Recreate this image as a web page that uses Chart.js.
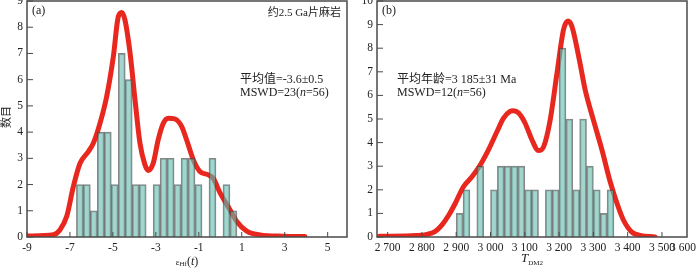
<!DOCTYPE html>
<html>
<head>
<meta charset="utf-8">
<script src="https://cdn.jsdelivr.net/npm/chart.js@4.4.0/dist/chart.umd.min.js"></script>
<style>
  html, body { margin: 0; padding: 0; background: #fff; }
  #wrap { position: relative; width: 700px; height: 268px; }
  canvas { position: absolute; top: 0; }
</style>
</head>
<body>
<div id="wrap">
  <canvas id="chartA" width="350" height="268" style="left:0"></canvas>
  <canvas id="chartB" width="350" height="268" style="left:350px"></canvas>
</div>
<script>
(function () {
  "use strict";

  // (a) eHf(t) histogram, bin centres and counts
  const binsA   = [-6.538, -6.213, -5.888, -5.563, -5.238, -4.913, -4.588, -4.263, -3.938, -3.613, -3.288, -2.963,
                   -2.638, -2.313, -1.988, -1.663, -1.338, -1.013, -0.688, -0.363, -0.038, 0.288, 0.613];
  const countsA = [2, 2, 1, 4, 4, 2, 7, 6, 2, 2, 0, 2, 3, 3, 2, 3, 3, 2, 0, 3, 0, 2, 1];
  // (a) probability curve
  const curveAx = [-8.95, -7.77, -7.46, -7.15, -6.84, -6.53, -6.14, -5.91, -5.6, -5.29, -4.98, -4.75, -4.59, -4.44,
                   -4.2, -3.97, -3.74, -3.51, -3.35, -3.12, -2.89, -2.65, -2.42, -2.11, -1.8, -1.57, -1.26, -0.95,
                   -0.56, -0.33, -0.01, 0.45, 0.76, 1.23, 1.85, 2.93, 3.94];
  const curveAy = [0.04, 0.09, 0.28, 0.79, 1.93, 2.81, 3.26, 3.58, 4.34, 5.36, 6.88, 8.4, 8.56, 8.28,
                   7.01, 5.23, 3.58, 2.76, 2.54, 2.82, 3.71, 4.34, 4.53, 4.5, 4.22, 3.71, 2.95, 2.5,
                   2.37, 2.24, 1.68, 1.04, 0.6, 0.22, 0.08, 0.03, 0.02];
  const ticksAx = [-9, -7, -5, -3, -1, 1, 3, 5];
  const ticksAy = [0, 1, 2, 3, 4, 5, 6, 7, 8, 9];

  // (b) TDM2 histogram
  const binsB   = [2910, 2930, 2950, 2970, 2990, 3010, 3030, 3050, 3070, 3090, 3110, 3130,
                   3150, 3170, 3190, 3210, 3230, 3250, 3270, 3290, 3310, 3330, 3350];
  const countsB = [1, 2, 0, 3, 0, 2, 3, 3, 3, 3, 2, 2, 0, 2, 2, 8, 5, 2, 5, 3, 2, 1, 2];
  const curveBx = [2676, 2785, 2815, 2839, 2858, 2878, 2897, 2921, 2946, 2970, 2994, 3019, 3038, 3057, 3067,
                   3082, 3101, 3121, 3140, 3155, 3174, 3194, 3213, 3226, 3237, 3257, 3276, 3300, 3325, 3349,
                   3369, 3388, 3412, 3436, 3480];
  const curveBy = [0.03, 0.06, 0.11, 0.24, 0.5, 0.92, 1.42, 2.13, 2.55, 3.05, 3.69, 4.47, 5.04, 5.32, 5.35,
                   5.25, 4.82, 4.11, 3.66, 3.83, 4.96, 6.95, 8.79, 9.15, 8.94, 7.66, 6.24, 4.96, 3.69, 2.34,
                   1.42, 0.71, 0.21, 0.07, 0.0];
  const ticksBx = [2700, 2800, 2900, 3000, 3100, 3200, 3300, 3400, 3500];
  const ticksBy = [0, 1, 2, 3, 4, 5, 6, 7, 8, 9, 10];

  const serif = '"Liberation Serif", "Noto Sans CJK SC", serif';
  const ink = '#222';
  const bar_fill = 'rgba(100,185,172,0.6)';
  const bar_edge = 'rgba(70,70,70,0.65)';
  const curve_red = 'rgb(232,40,30)';

  function spaced(v) {
    return String(v).replace(/(\d)(\d{3})$/, '$1 $2');
  }

  // box frame and inward tick marks
  const frameTicks = {
    id: 'frameTicks',
    afterDatasetsDraw(chart) {
      const ctx = chart.ctx;
      const a = chart.chartArea;
      const sx = chart.scales.x, sy = chart.scales.y;
      ctx.save();
      ctx.strokeStyle = '#4a4a4a';
      ctx.lineWidth = 1.5;
      ctx.strokeRect(a.left, a.top, a.right - a.left, a.bottom - a.top);
      ctx.lineWidth = 1;
      ctx.beginPath();
      sx.ticks.forEach(function (t) {
        const px = sx.getPixelForValue(t.value);
        ctx.moveTo(px, a.bottom);
        ctx.lineTo(px, a.bottom - 5);
      });
      sy.ticks.forEach(function (t) {
        const py = sy.getPixelForValue(t.value);
        ctx.moveTo(a.left, py);
        ctx.lineTo(a.left + 6, py);
      });
      ctx.stroke();
      ctx.restore();
    }
  };

  // free text with mixed fonts (italics, subscripts)
  const notes = {
    id: 'notes',
    afterDraw(chart, args, opts) {
      const ctx = chart.ctx;
      ctx.save();
      ctx.fillStyle = ink;
      ctx.textBaseline = 'middle';
      (opts.items || []).forEach(function (item) {
        ctx.save();
        ctx.translate(item.x, item.y);
        if (item.rotate) ctx.rotate(item.rotate);
        let w = 0;
        item.runs.forEach(function (r) { ctx.font = r[1]; w += ctx.measureText(r[0]).width; });
        let x = item.align === 'right' ? -w : item.align === 'center' ? -w / 2 : 0;
        item.runs.forEach(function (r) {
          ctx.font = r[1];
          ctx.fillText(r[0], x, r[2] || 0);
          x += ctx.measureText(r[0]).width;
        });
        ctx.restore();
      });
      ctx.restore();
    }
  };

  function makeChart(id, o) {
    return new Chart(document.getElementById(id), {
      type: 'bar',
      data: {
        datasets: [{
          type: 'bar',
          data: o.bins.map(function (b, i) { return { x: b, y: o.counts[i] }; }),
          backgroundColor: bar_fill,
          borderColor: bar_edge,
          borderWidth: 1.2,
          barPercentage: 1,
          categoryPercentage: 1,
          order: 0
        }, {
          type: 'line',
          data: o.cx.map(function (x, i) { return { x: x, y: o.cy[i] }; }),
          borderColor: curve_red,
          borderWidth: 5,
          borderCapStyle: 'round',
          pointRadius: 0,
          cubicInterpolationMode: 'monotone',
          fill: false,
          order: 1
        }]
      },
      options: {
        responsive: false,
        animation: false,
        layout: { padding: { top: 1, right: o.padRight, left: 0, bottom: 0 } },
        plugins: {
          legend: { display: false },
          tooltip: { enabled: false },
          notes: { items: o.notes }
        },
        scales: {
          x: {
            type: 'linear',
            offset: false,
            min: o.xmin,
            max: o.xmax,
            grid: { display: false, drawTicks: false },
            border: { display: false },
            afterBuildTicks: function (s) { s.ticks = o.xticks.map(function (v) { return { value: v }; }); },
            afterFit: function (s) { s.height = 31; s.paddingLeft = 0; s.paddingRight = 0; },
            ticks: {
              autoSkip: false,
              maxRotation: 0,
              padding: 4,
              color: ink,
              font: { family: serif, size: 11.5 },
              callback: function (v) { return spaced(v); }
            }
          },
          y: {
            min: 0,
            max: o.ymax,
            grid: { display: false, drawTicks: false },
            border: { display: false },
            afterBuildTicks: function (s) { s.ticks = o.yticks.map(function (v) { return { value: v }; }); },
            afterFit: function (s) { s.width = o.yw; s.paddingTop = 0; s.paddingBottom = 0; },
            ticks: {
              padding: 4,
              color: ink,
              font: { family: serif, size: 11.5 }
            }
          }
        }
      },
      plugins: [frameTicks, notes]
    });
  }

  const f12 = '12px ' + serif;
  const f12i = 'italic 12px ' + serif;

  makeChart('chartA', {
    bins: binsA, counts: countsA, cx: curveAx, cy: curveAy,
    xmin: -9, xmax: 5.9, ymax: 9, xticks: ticksAx, yticks: ticksAy,
    yw: 27, padRight: 3,
    notes: [
      { x: 32, y: 11, align: 'left', runs: [['(a)', f12]] },
      { x: 341, y: 13, align: 'right', runs: [['约2.5 Ga片麻岩', '11px ' + serif]] },
      { x: 240, y: 80, align: 'left', runs: [['平均值=-3.6±0.5', f12]] },
      { x: 240, y: 93, align: 'left', runs: [['MSWD=23(', f12], ['n', f12i], ['=56)', f12]] },
      { x: 7, y: 117, align: 'center', rotate: -Math.PI / 2, runs: [['数目', '11px ' + serif]] },
      { x: 187, y: 262, align: 'center', runs: [['ε', '9px ' + serif, 1], ['Hf', '7px ' + serif, 2], ['(', f12], ['t', f12i], [')', f12]] }
    ]
  });

  makeChart('chartB', {
    bins: binsB, counts: countsB, cx: curveBx, cy: curveBy,
    xmin: 2669, xmax: 3573, ymax: 10, xticks: ticksBx, yticks: ticksBy,
    yw: 27, padRight: 13,
    notes: [
      { x: 32, y: 11, align: 'left', runs: [['(b)', f12]] },
      { x: 47, y: 80, align: 'left', runs: [['平均年龄=3 185±31 Ma', f12]] },
      { x: 47, y: 93, align: 'left', runs: [['MSWD=12(', f12], ['n', f12i], ['=56)', f12]] },
      { x: 333, y: 248, align: 'center', runs: [['3 600', '11.5px ' + serif]] },
      { x: 182, y: 259, align: 'center', runs: [['T', 'italic 13px ' + serif], ['DM2', '7px ' + serif, 4]] }
    ]
  });
})();
</script>
</body>
</html>
